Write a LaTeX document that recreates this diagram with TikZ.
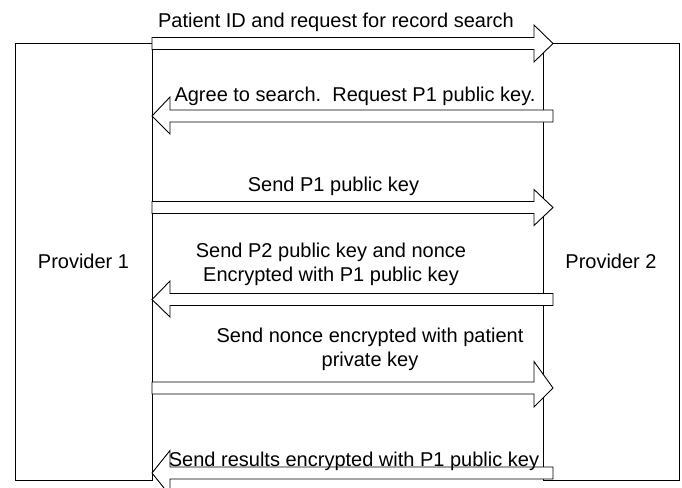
\documentclass[tikz,border=0pt]{standalone}
\usepackage{fontspec}
\setmainfont{Liberation Sans}
\usetikzlibrary{positioning}
\tikzset{
  party/.style={draw=black,line width=0.9pt,inner sep=0pt,font=\fontsize{20}{24}\selectfont},
  fat/.style={draw=black,fill=white,line width=0.9pt,line join=miter},
  msg/.style={anchor=base,inner sep=0pt,align=center,font=\fontsize{20}{24}\selectfont},
}

\begin{document}
\begin{tikzpicture}[x=1pt,y=-1pt]
\useasboundingbox (0,0) rectangle (682,487);
% ================= the two providers =================
\node[party,minimum width=137pt,minimum height=437pt] (prov1) at (83.5,261.5) {Provider 1};
\node[party,minimum width=136pt,minimum height=437pt] (prov2) at (611,261.5) {Provider 2};

% ================= block arrows =================
% provider 1 -> provider 2 (centre y / head above / head below)
\foreach \c/\t/\b in {43.5/18.5/18.5, 207.5/18/18, 388/26.5/19}{
  \draw[fat] (152,\c-6) -- (534,\c-6) -- (534,\c-\t) -- (553,\c) -- (534,\c+\b) -- (534,\c+6) -- (152,\c+6) -- cycle;
}
% provider 2 -> provider 1
\foreach \c/\t/\b in {116/19/18, 299.5/18.5/17.5, 473/22.5/22.5}{
  \draw[fat] (553,\c-6) -- (170,\c-6) -- (170,\c-\t) -- (152,\c) -- (170,\c+\b) -- (170,\c+6) -- (553,\c+6) -- cycle;
}

% ================= messages =================
% (base of a two-line message is the base of its last line)
\node[msg] (m1) at (336,28) {Patient ID and request for record search};
\node[msg] (m2) at (355,101.7) {Agree to search.\ \ Request P1 public key.};
\node[msg] (m3) at (333.5,191.7) {Send P1 public key};
\node[msg] (m4) at (331,281.7) {Send P2 public key and nonce\\Encrypted with P1 public key};
\node[msg] (m5) at (370,366.7) {Send nonce encrypted with patient\\private key};
\node[msg] (m6) at (354,466) {Send results encrypted with P1 public key};
\end{tikzpicture}
\end{document}
